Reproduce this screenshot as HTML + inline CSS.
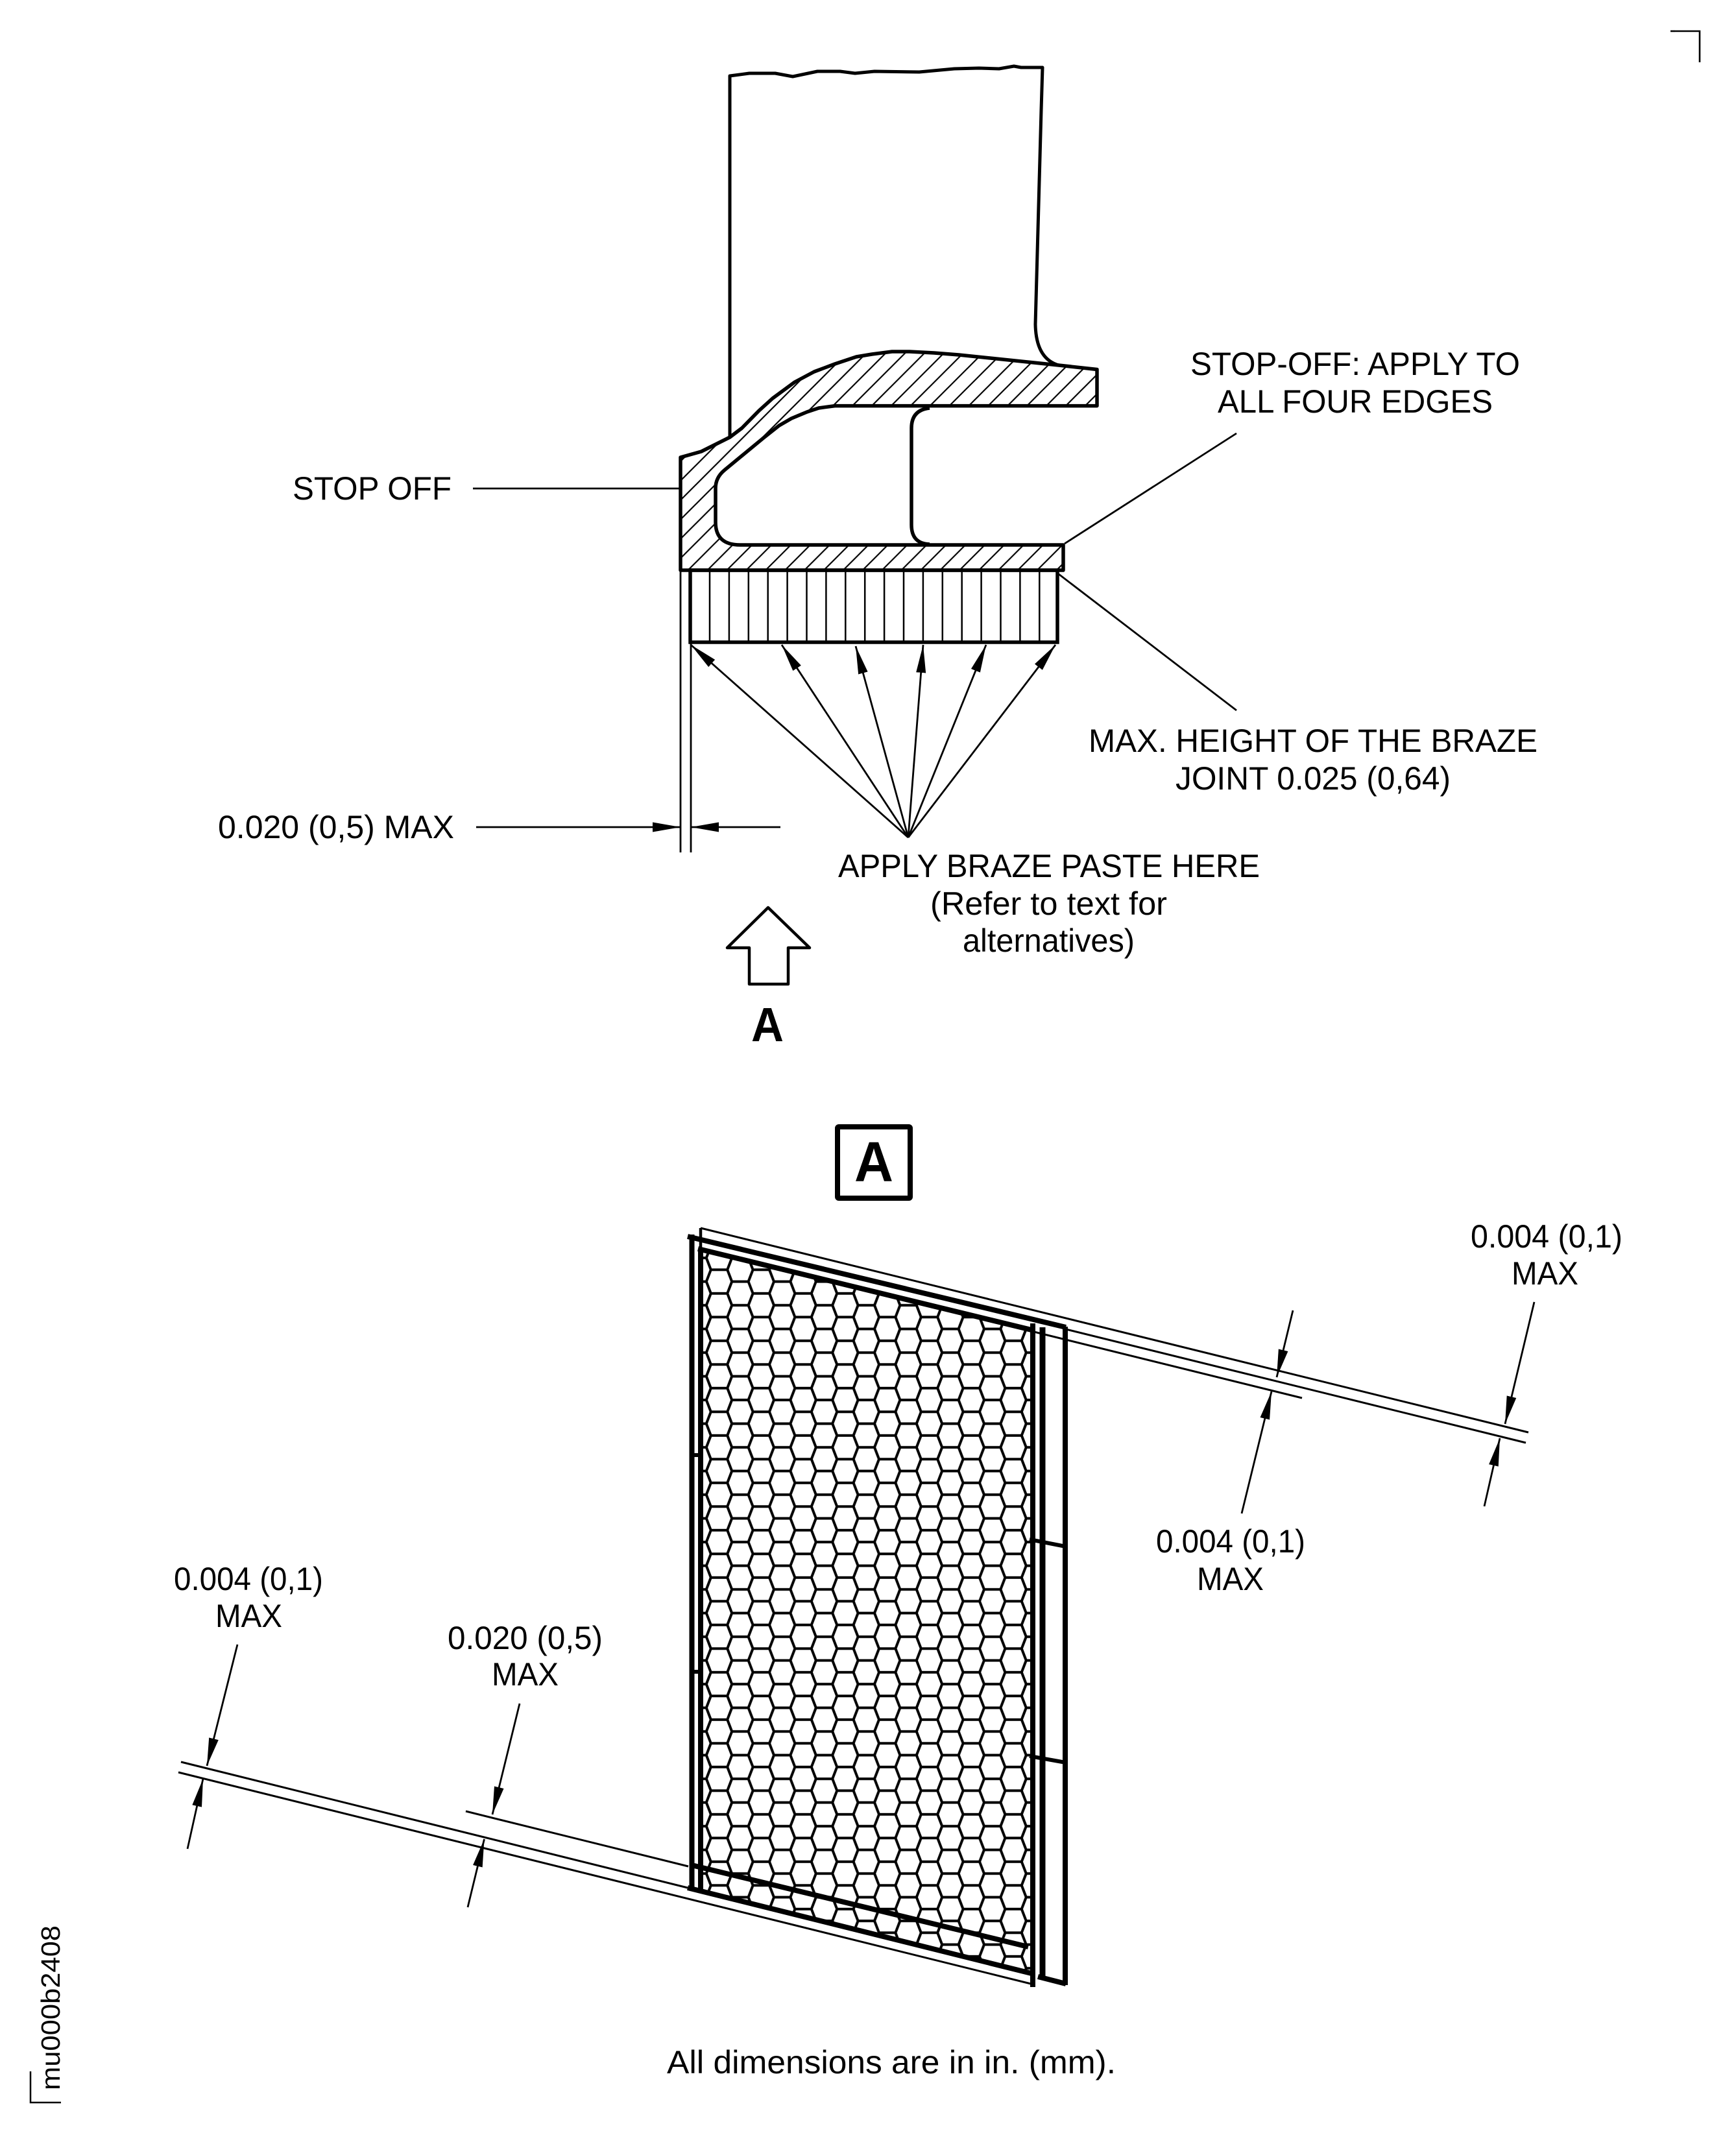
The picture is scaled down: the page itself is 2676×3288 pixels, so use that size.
<!DOCTYPE html>
<html lang="en">
<head>
<meta charset="utf-8">
<title>Braze diagram</title>
<style>
html,body{margin:0;padding:0;background:#fff}
svg{display:block}
text{font-family:"Liberation Sans",sans-serif;font-size:50px;fill:#000}
.b{font-weight:bold}
</style>
</head>
<body>
<svg xmlns="http://www.w3.org/2000/svg" width="2676" height="3288" viewBox="0 0 2676 3288">
<defs>
<marker id="ah" markerUnits="userSpaceOnUse" markerWidth="46" markerHeight="18" refX="43" refY="9" orient="auto">
<path d="M0,1.5 L43,9 L0,16.5 Z" fill="#000"/>
</marker>
<pattern id="hatch" patternUnits="userSpaceOnUse" width="29.9" height="29.9" patternTransform="translate(25.9 0)">
<path d="M-3,32.9 L32.9,-3 M-2,2 L2,-2 M27.9,31.9 L31.9,27.9" stroke="#000" stroke-width="2.2" fill="none"/>
</pattern>
<pattern id="hex" patternUnits="userSpaceOnUse" width="64.8" height="36.5" patternTransform="translate(1108.5 1957.3)">
<path d="M0,0 L12.7,0 L19.7,18.25 L12.7,36.5 L0,36.5 M64.8,0 L52.1,0 L45.1,18.25 L52.1,36.5 L64.8,36.5 M19.7,18.25 L45.1,18.25" stroke="#000" stroke-width="4" fill="none" stroke-linejoin="round"/>
</pattern>
</defs>
<rect width="2676" height="3288" fill="#fff"/>

<!-- corner marks -->
<path d="M2582,48 L2620,48 L2620,96" fill="none" stroke="#000" stroke-width="2.6" transform="translate(0 0)"/>
<path d="M2575,48 L2582,48" fill="none" stroke="#000" stroke-width="2.6"/>
<path d="M47,3193 L47,3241 L94,3241" fill="none" stroke="#000" stroke-width="2.5"/>

<!-- blade -->
<g fill="none" stroke="#000" stroke-width="5" stroke-linejoin="round">
<path d="M1125,674 L1125,117 L1155,113 L1195,113 L1222,118 L1260,110 L1295,110 L1318,113 L1348,110 L1417,111 L1471,106 L1509,105 L1540,106 L1563,102 L1574,104 L1607,104 L1605,170 L1596,500 Q1597,553 1632,563"/>
</g>

<!-- section -->
<path d="M1049,705 L1081,696 L1125,674 L1143.5,660 L1170,633 L1191,614 L1225,589 L1255,573 L1287,561 L1320,550 L1344,546 L1375,542 L1402,542 L1440,544 L1478,547 L1632,563 L1691,569.5 L1691,625.6 L1287,625.6 L1262,629 L1244,635 L1220,645 L1201,656 L1177,675 L1117,724.5 Q1103,736 1103,752.6 L1103,805 Q1103,840 1141,840 L1639,840 L1639,879 L1049,879 Z" fill="url(#hatch)" stroke="#000" stroke-width="5.5" stroke-linejoin="round"/>
<path d="M1433,629 Q1405,632 1405,660 L1405,809 Q1405,838 1433,839" fill="none" stroke="#000" stroke-width="5.5"/>

<!-- braze -->
<rect x="1064" y="879" width="566" height="111" fill="none" stroke="#000" stroke-width="5.5"/>
<path d="M1094,879V990M1123.9,879V990M1153.8,879V990M1183.7,879V990M1213.6,879V990M1243.5,879V990M1273.4,879V990M1303.3,879V990M1333.2,879V990M1363.1,879V990M1393,879V990M1422.9,879V990M1452.8,879V990M1482.7,879V990M1512.6,879V990M1542.5,879V990M1572.4,879V990M1602.3,879V990" stroke="#000" stroke-width="2.5" fill="none"/>

<!-- leaders -->
<g stroke="#000" stroke-width="2.8" fill="none">
<path d="M729,753 L1049,753"/>
<path d="M1641,838 L1906,668"/>
<path d="M1632,885 L1906,1095"/>
<path d="M1049,879 L1049,1314"/>
<path d="M1065,990 L1065,1314"/>
<path d="M734,1275 L1049,1275" marker-end="url(#ah)"/>
<path d="M1203,1275 L1065,1275" marker-end="url(#ah)"/>
<path d="M1400,1291 L1065,994" marker-end="url(#ah)"/>
<path d="M1400,1291 L1205,994" marker-end="url(#ah)"/>
<path d="M1400,1291 L1319,996" marker-end="url(#ah)"/>
<path d="M1400,1291 L1423,994" marker-end="url(#ah)"/>
<path d="M1400,1291 L1520,994" marker-end="url(#ah)"/>
<path d="M1400,1291 L1627,994" marker-end="url(#ah)"/>
</g>

<!-- view arrow -->
<path d="M1184,1399 L1121,1461 L1155,1461 L1155,1517 L1215,1517 L1215,1461 L1248,1461 Z" fill="none" stroke="#000" stroke-width="4.5" stroke-linejoin="round"/>
<text class="b" x="1158" y="1605" style="font-size:74px" textLength="50" lengthAdjust="spacingAndGlyphs">A</text>

<!-- boxed A -->
<rect x="1291" y="1737" width="112" height="110" rx="2" fill="none" stroke="#000" stroke-width="8"/>
<text class="b" x="1317" y="1821" style="font-size:87px" textLength="60" lengthAdjust="spacingAndGlyphs">A</text>

<!-- honeycomb -->
<polygon points="1080,1925 1592,2051 1592,3045 1080,2915" fill="url(#hex)"/>

<!-- panel lines -->
<g fill="none" stroke="#000">
<g stroke-width="3">
<path d="M1080,1893 L2356,2208"/>
<path d="M1643,2049 L2352,2224"/>
<path d="M1594,2053 L2007,2155"/>
<path d="M718,2792 L1061,2877"/>
<path d="M279,2716 L1060,2910"/>
<path d="M275,2732 L1589,3058"/>
</g>
<g stroke-width="8">
<path d="M1060,1906 L1643,2046"/>
<path d="M1076,1925 L1594,2051"/>
<path d="M1066,2875 L1585,3001"/>
<path d="M1060,2910 L1594,3043"/>
<path d="M1600,3047 L1643,3058"/>
<path d="M1066.5,1903 L1066.5,2912"/>
<path d="M1080,1925 L1080,2916"/>
<path d="M1592,2040 L1592,3063"/>
<path d="M1642,2045 L1642,3060"/>
</g>
<path d="M1607,2046 L1607,3047" stroke-width="9"/>
<path d="M1080,1893 L1080,1930" stroke-width="4.5"/>
<path d="M1587,2373 L1643,2384" stroke-width="6"/>
<path d="M1587,2707 L1643,2717" stroke-width="6"/>
<path d="M1066,2243 L1080,2243" stroke-width="6"/>
<path d="M1066,2577 L1080,2577" stroke-width="6"/>
</g>

<!-- panel dimension arrows -->
<g stroke="#000" stroke-width="2.8" fill="none">
<path d="M366,2535 L319,2722" marker-end="url(#ah)"/>
<path d="M289,2850 L313,2742" marker-end="url(#ah)"/>
<path d="M801,2626 L759,2797" marker-end="url(#ah)"/>
<path d="M721,2940 L746.5,2835" marker-end="url(#ah)"/>
<path d="M1993,2020 L1968,2123" marker-end="url(#ah)"/>
<path d="M1914,2333 L1960,2145" marker-end="url(#ah)"/>
<path d="M2365,2007 L2320,2195" marker-end="url(#ah)"/>
<path d="M2288,2322 L2312,2217" marker-end="url(#ah)"/>
</g>

<!-- labels -->
<text x="451" y="770" textLength="245" lengthAdjust="spacingAndGlyphs">STOP OFF</text>
<text x="1835" y="578" textLength="508" lengthAdjust="spacingAndGlyphs">STOP-OFF: APPLY TO</text>
<text x="1877" y="636" textLength="424" lengthAdjust="spacingAndGlyphs">ALL FOUR EDGES</text>
<text x="1678" y="1159" textLength="692" lengthAdjust="spacingAndGlyphs">MAX. HEIGHT OF THE BRAZE</text>
<text x="1812" y="1217" textLength="424" lengthAdjust="spacingAndGlyphs">JOINT 0.025 (0,64)</text>
<text x="336" y="1292" textLength="364" lengthAdjust="spacingAndGlyphs">0.020 (0,5) MAX</text>
<text x="1292" y="1352" textLength="650" lengthAdjust="spacingAndGlyphs">APPLY BRAZE PASTE HERE</text>
<text x="1434" y="1410" textLength="365" lengthAdjust="spacingAndGlyphs">(Refer to text for</text>
<text x="1484" y="1467" textLength="265" lengthAdjust="spacingAndGlyphs">alternatives)</text>
<text x="2267" y="1923" textLength="234" lengthAdjust="spacingAndGlyphs">0.004 (0,1)</text>
<text x="2330" y="1980" textLength="103" lengthAdjust="spacingAndGlyphs">MAX</text>
<text x="1782" y="2393" textLength="230" lengthAdjust="spacingAndGlyphs">0.004 (0,1)</text>
<text x="1845" y="2451" textLength="103" lengthAdjust="spacingAndGlyphs">MAX</text>
<text x="268" y="2451" textLength="230" lengthAdjust="spacingAndGlyphs">0.004 (0,1)</text>
<text x="332" y="2508" textLength="103" lengthAdjust="spacingAndGlyphs">MAX</text>
<text x="690" y="2542" textLength="239" lengthAdjust="spacingAndGlyphs">0.020 (0,5)</text>
<text x="758" y="2598" textLength="103" lengthAdjust="spacingAndGlyphs">MAX</text>
<text x="1028" y="3196" textLength="692" lengthAdjust="spacingAndGlyphs">All dimensions are in in. (mm).</text>
<text transform="translate(92 3222) rotate(-90)" x="0" y="0" style="font-size:41px" textLength="254" lengthAdjust="spacingAndGlyphs">mu000b2408</text>
</svg>
</body>
</html>
